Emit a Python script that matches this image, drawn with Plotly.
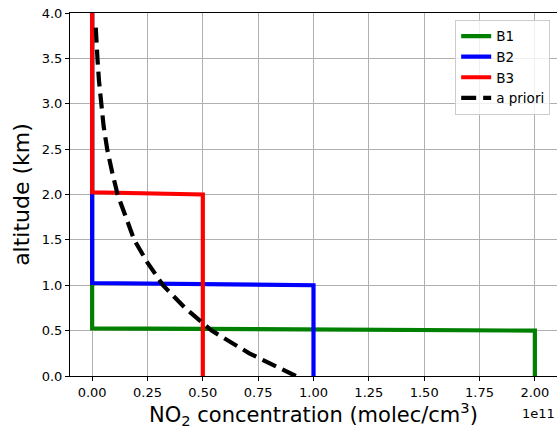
import plotly.graph_objects as go

# Box profiles (concentration in molec/cm3, altitude in km)
b1_conc = [2.0e11, 2.0e11, 0.0, 0.0]
b1_alt = [0.0, 0.5, 0.525, 4.0]
b2_conc = [1.0e11, 1.0e11, 0.0, 0.0]
b2_alt = [0.0, 1.0, 1.025, 4.0]
b3_conc = [0.5e11, 0.5e11, 0.0, 0.0]
b3_alt = [0.0, 2.0, 2.025, 4.0]

# a priori profile
apriori_alt = [0.0, 0.25, 0.5, 0.75, 1.0, 1.25, 1.5, 1.75, 2.0, 2.25, 2.5, 2.75,
               3.0, 3.25, 3.5, 3.75, 3.9]
apriori_conc = [0.92e11, 0.71e11, 0.54e11, 0.42e11, 0.32e11, 0.25e11, 0.19e11,
                0.15e11, 0.115e11, 0.09e11, 0.068e11, 0.052e11, 0.040e11,
                0.031e11, 0.024e11, 0.018e11, 0.015e11]

x_ticks = [0.0, 0.25e11, 0.5e11, 0.75e11, 1.0e11, 1.25e11, 1.5e11, 1.75e11, 2.0e11]
x_ticktext = ["0.00", "0.25", "0.50", "0.75", "1.00", "1.25", "1.50", "1.75", "2.00"]
y_ticks = [0.0, 0.5, 1.0, 1.5, 2.0, 2.5, 3.0, 3.5, 4.0]

FONT = "DejaVu Sans"

fig = go.Figure()
fig.add_trace(go.Scatter(x=b1_conc, y=b1_alt, mode="lines", name="B1",
                         line=dict(color="green", width=4.2)))
fig.add_trace(go.Scatter(x=b2_conc, y=b2_alt, mode="lines", name="B2",
                         line=dict(color="blue", width=4.2)))
fig.add_trace(go.Scatter(x=b3_conc, y=b3_alt, mode="lines", name="B3",
                         line=dict(color="red", width=4.2)))
fig.add_trace(go.Scatter(x=apriori_conc, y=apriori_alt, mode="lines", name="a priori",
                         line=dict(color="black", width=4.2, dash="15px,7px")))

fig.update_layout(
    width=557, height=428,
    margin=dict(l=70, r=0, t=13, b=52),
    paper_bgcolor="white", plot_bgcolor="white",
    font=dict(family=FONT, size=13, color="black"),
    showlegend=True,
    legend=dict(x=0.986, y=0.981, xanchor="right", yanchor="top",
                bgcolor="rgba(255,255,255,0.8)", bordercolor="#cccccc", borderwidth=1,
                font=dict(family=FONT, size=13.5), tracegroupgap=0,
                itemwidth=30),
)
fig.update_xaxes(
    range=[-0.1e11, 2.1e11],
    tickvals=x_ticks, ticktext=x_ticktext,
    showgrid=True, gridcolor="#b0b0b0", gridwidth=1,
    showline=True, linecolor="black", linewidth=1, mirror=True,
    ticks="outside", ticklen=4, tickcolor="black",
    zeroline=False,
    tickfont=dict(family=FONT, size=13),
)
fig.update_yaxes(
    range=[0, 4.0],
    tickvals=y_ticks, tickformat=".1f",
    showgrid=True, gridcolor="#b0b0b0", gridwidth=1,
    showline=True, linecolor="black", linewidth=1, mirror=True,
    ticks="outside", ticklen=4, tickcolor="black",
    zeroline=False,
    tickfont=dict(family=FONT, size=13),
    title=dict(text="altitude (km)", font=dict(family=FONT, size=22), standoff=6),
)
fig.add_annotation(text="NO<sub>2</sub> concentration (molec/cm<sup>3</sup>)",
                   xref="paper", yref="paper", x=0.5, y=0, yshift=-21,
                   xanchor="center", yanchor="top", showarrow=False,
                   font=dict(family=FONT, size=21))
fig.add_annotation(text="1e11", xref="paper", yref="paper", x=1.0, y=0, yshift=-37,
                   xanchor="right", yanchor="middle", showarrow=False,
                   font=dict(family=FONT, size=13))

fig.write_html("out.html")
